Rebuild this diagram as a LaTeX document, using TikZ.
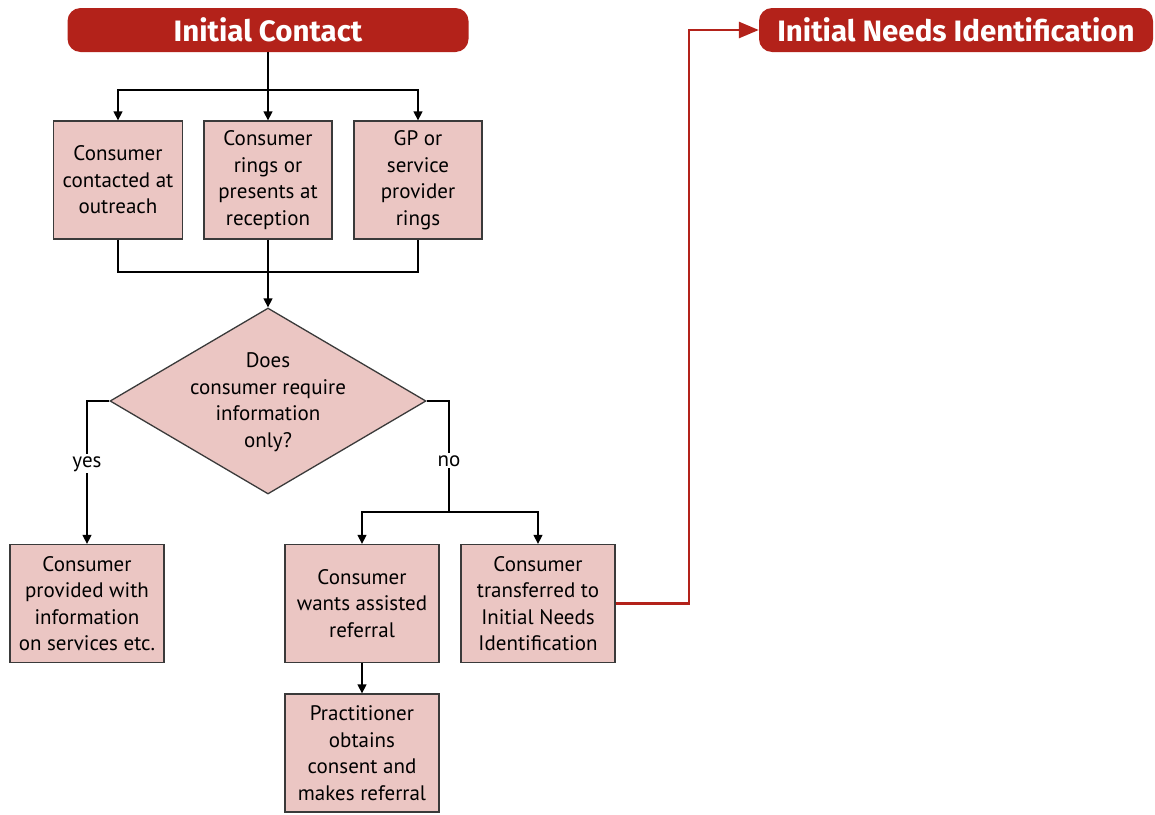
\documentclass[tikz,border=0pt]{standalone}
\usepackage{fontspec}
\setmainfont{PT Sans}
\newfontfamily\headfont{Fira Sans}
\usetikzlibrary{shapes.geometric,arrows.meta}
\definecolor{hdred}{HTML}{B3221A}
\definecolor{boxpink}{HTML}{EBC6C3}
\definecolor{edgegray}{HTML}{3A3A3A}
\begin{document}
\begin{tikzpicture}[x=1pt,y=-1pt,
  header/.style={draw=none,fill=hdred,rounded corners=13pt,text=white,
    font=\headfont\fontsize{29.5}{32}\selectfont\bfseries,minimum height=44pt,inner sep=0pt},
  stepbox/.style={draw=edgegray,line width=1.3pt,fill=boxpink,align=center,
    font=\fontsize{21}{26.5}\selectfont,inner sep=0pt,minimum height=118pt},
  decision/.style={diamond,draw=edgegray,line width=1.3pt,fill=boxpink,inner sep=0pt,
    shape aspect=1.7,minimum width=316pt,minimum height=186pt},
  qtext/.style={align=center,font=\fontsize{21}{26.5}\selectfont,inner sep=0pt},
  link/.style={draw=black,line width=1.3pt,-{Triangle[length=9pt,width=9pt]}},
  plain/.style={draw=black,line width=1.3pt},
  redlink/.style={draw=hdred,line width=2.8pt,-{Triangle[length=20pt,width=16pt]}},
  lbl/.style={fill=white,font=\fontsize{21}{26}\selectfont,inner sep=2pt}
]
\useasboundingbox (0,0) rectangle (1155,814);

% headers
\node[header,minimum width=401pt] (ic) at (268,30) {Initial Contact};
\node[header,minimum width=394pt] (ini) at (956,30) {Initial Needs Identification};

% first row of contact routes
\node[stepbox,minimum width=129pt] (outreach) at (118,180) {Consumer\\contacted at\\outreach};
\node[stepbox,minimum width=128pt] (reception) at (268,180) {Consumer\\rings or\\presents at\\reception};
\node[stepbox,minimum width=128pt] (gp) at (418,180) {GP or\\service\\provider\\rings};

% decision
\node[decision] (info) at (268,401) {};
\node[qtext] (infotext) at (268,402) {Does\\consumer require\\information\\only?};

% outcomes
\node[stepbox,minimum width=154pt] (provided) at (87,603.5) {Consumer\\provided with\\information\\on services etc.};
\node[stepbox,minimum width=154pt] (assisted) at (362,603.5) {Consumer\\wants assisted\\referral};
\node[stepbox,minimum width=154pt] (transfer) at (538,603.5) {Consumer\\transferred to\\Initial Needs\\Identification};
\node[stepbox,minimum width=154pt] (consent) at (362,753) {Practitioner\\obtains\\consent and\\makes referral};

% fan out from the header
\coordinate (split) at (268,90);
\draw[plain] (ic.south) -- (split);
\draw[link] (split) -- (reception.north);
\draw[link] (split) -| (outreach.north);
\draw[link] (split) -| (gp.north);

% merge into the decision
\coordinate (merge) at (268,272);
\draw[plain] (outreach.south) |- (merge) -| (gp.south);
\draw[link] (reception.south) -- (info.north);

% yes branch
\draw[link] (info.west) -| node[lbl,pos=0.72] (yes) {yes} (provided.north);

% no branch
\coordinate (nosplit) at (449,512);
\draw[plain] (info.east) -| node[lbl,pos=0.77] (no) {no} (nosplit);
\draw[link] (nosplit) -| (assisted.north);
\draw[link] (nosplit) -| (transfer.north);

\draw[link] (assisted.south) -- (consent.north);

% hand-over to the next stage
\coordinate (turn) at (689,603.5);
\draw[redlink] (transfer.east) -- (turn) |- (ini.west);
\end{tikzpicture}
\end{document}
